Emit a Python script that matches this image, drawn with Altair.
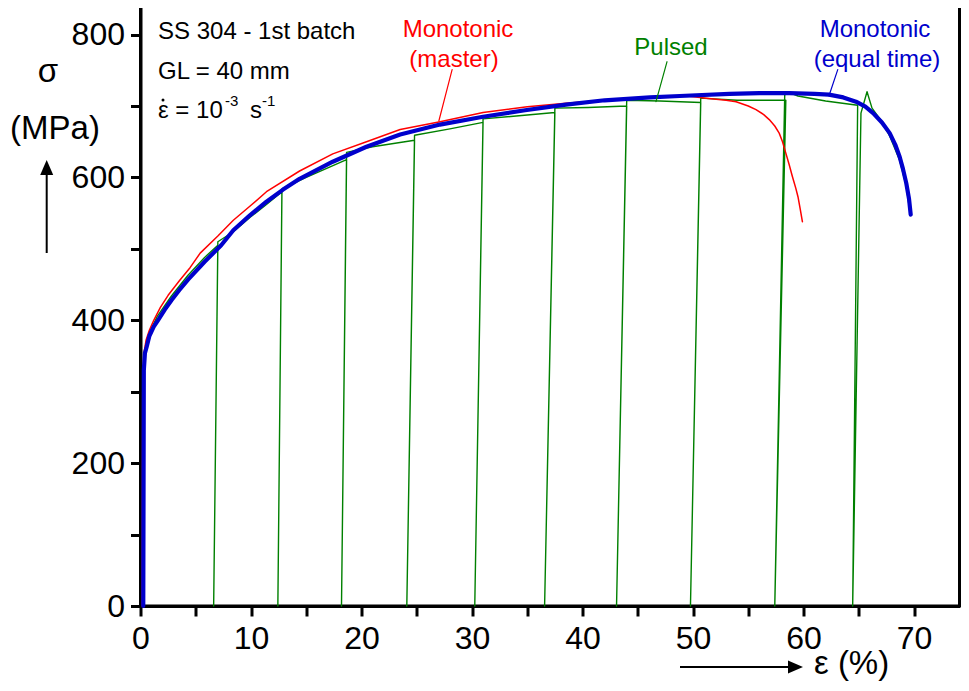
import altair as alt
import pandas as pd

FONT = "Liberation Sans"

# ---- Monotonic (equal time) : blue
eps_blue = [0.25, 0.30, 0.40, 0.56, 0.80, 1.20, 1.58, 2.20, 2.80, 3.50, 4.30, 5.80, 7.30,
            8.40, 9.90, 11.4, 12.9, 14.4, 17.4, 20.45, 23.5, 27.1, 31.0, 34.8, 38.5, 42.0,
            46.1, 48.8, 53.3, 56.0, 58.7, 61.0, 62.3, 63.6, 64.75, 65.6, 66.3, 67.1, 67.8,
            68.3, 68.7, 69.0, 69.3, 69.55, 69.7]
sig_blue = [0, 330, 354, 363, 378, 391, 400, 415, 428, 442, 457, 482, 505,
            526, 547, 566, 583, 598, 622, 643, 660, 674, 685, 694, 702, 708,
            712, 714, 717, 718, 718, 717, 716, 712, 706, 699, 690, 677, 662,
            646, 629, 612, 592, 570, 548]

# ---- Monotonic (master) : red
eps_red = [0.15, 0.20, 0.30, 0.50, 0.80, 1.20, 1.80, 2.50, 3.50, 4.50, 5.40, 7.00, 8.40,
           10.0, 11.4, 14.4, 17.4, 20.45, 23.5, 27.1, 31.0, 35.0, 38.5, 42.0, 44.3, 47.0,
           49.5, 51.2, 53.0, 53.9, 55.0, 55.7, 56.4, 56.9, 57.4, 57.8, 58.1, 58.4, 58.7,
           59.0, 59.3, 59.5, 59.7, 59.9]
sig_red = [0, 300, 352, 372, 386, 400, 418, 435, 455, 474, 494, 518, 540,
           561, 580, 609, 633, 650, 667, 678, 691, 699, 704, 708, 711, 713,
           714, 711, 708, 706, 700, 695, 688, 681, 672, 662, 650, 634, 618,
           601, 585, 573, 556, 538]

# ---- Pulsed : green
eps_green = [0.22, 0.28, 0.45, 0.80, 1.50, 2.80, 4.30, 5.80, 7.00,
             6.62, 7.00, 8.40, 9.90, 11.4, 12.8,
             12.43, 12.8, 15.0, 18.65,
             18.19, 18.65, 21.0, 24.8,
             24.10, 24.8, 28.0, 31.0,
             30.25, 31.0, 34.0, 37.5,
             36.57, 37.5, 40.5, 44.0,
             43.08, 44.0, 47.0, 50.7,
             49.77, 50.7, 54.0, 58.4,
             57.40, 58.3, 58.5, 59.5, 62.0, 64.9,
             64.45, 65.2, 65.75, 66.2, 67.0, 67.8, 68.7, 69.3, 69.6]
sig_green = [0, 340, 358, 382, 405, 434, 463, 488, 505,
             0, 510, 524, 544, 562, 580,
             0, 584, 600, 625,
             0, 635, 643, 652,
             0, 659, 668, 677,
             0, 682, 686, 691,
             0, 697, 698, 700,
             0, 708, 707, 705,
             0, 711, 708, 708,
             0, 715, 720, 714, 707, 701,
             0, 690, 720, 697, 680, 658, 624, 588, 555]

# ---- leader lines for the labels (data units)
lead_red_eps = [28.2, 27.0]
lead_red_sig = [751, 679]
lead_green_eps = [47.65, 46.65]
lead_green_sig = [762, 706]
lead_blue_eps = [63.1, 62.3]
lead_blue_sig = [751, 714]

x_ticks = list(range(0, 71, 5))
y_ticks = list(range(0, 801, 100))

RED = "#ff0000"
GREEN = "#008000"
BLUE = "#0000cc"

# page -> plot coordinate offset
OX, OY = 140.5, 1.0
PLOT_W = 819.0          # 11.05 px per % strain
X_MAX = PLOT_W / 11.05


def curve(eps, sig):
    return pd.DataFrame({"eps": eps, "sig": sig, "i": list(range(len(eps)))})


X = alt.X("eps:Q",
          scale=alt.Scale(domain=[0, X_MAX], nice=False, zero=False),
          axis=alt.Axis(values=x_ticks, title=None,
                        labelExpr="datum.value % 10 == 0 ? datum.label : ''",
                        labelFlush=False, labelOverlap=False, labelBound=False,
                        labelPadding=7))
Y = alt.Y("sig:Q",
          scale=alt.Scale(domain=[0, 847], nice=False, zero=False),
          axis=alt.Axis(values=y_ticks, title=None,
                        labelExpr="datum.value % 200 == 0 ? datum.label : ''",
                        labelFlush=False, labelOverlap=False, labelBound=False,
                        labelPadding=6))


def line(eps, sig, color, width):
    return alt.Chart(curve(eps, sig)).mark_line(
        color=color, strokeWidth=width, strokeJoin="round", strokeCap="round"
    ).encode(x=X, y=Y, order=alt.Order("i:Q"))


one = pd.DataFrame({"k": [0]})


def label(txt, x, y, size, color="black", align="left", baseline="alphabetic"):
    return alt.Chart(one).mark_text(
        text=txt, font=FONT, fontSize=size, color=color, align=align, baseline=baseline
    ).encode(x=alt.value(x - OX), y=alt.value(y - OY))


def rule(x1, y1, x2, y2, width=2):
    return alt.Chart(one).mark_rule(color="black", strokeWidth=width).encode(
        x=alt.value(x1 - OX), y=alt.value(y1 - OY), x2=alt.value(x2 - OX), y2=alt.value(y2 - OY))


def head(x, y, path):
    return alt.Chart(one).mark_point(
        shape=path, size=225, filled=True, color="black", opacity=1, strokeWidth=0
    ).encode(x=alt.value(x - OX), y=alt.value(y - OY))


layers = [
    line(eps_green, sig_green, GREEN, 1.4),
    line(eps_red, sig_red, RED, 1.5),
    line(eps_blue, sig_blue, BLUE, 4.2),
    line(lead_red_eps, lead_red_sig, RED, 1.2),
    line(lead_green_eps, lead_green_sig, GREEN, 1.2),
    line(lead_blue_eps, lead_blue_sig, BLUE, 1.2),
    # info block
    label("SS 304 - 1st batch", 158, 39, 24),
    label("GL = 40 mm", 158, 79, 24),
    label("\u03b5 = 10", 158, 118, 24),
    label("-3", 225, 106, 15),
    label("s", 250, 118, 24),
    label("-1", 262, 106, 15),
    alt.Chart(one).mark_circle(size=9, color="black", opacity=1).encode(
        x=alt.value(163 - OX), y=alt.value(100 - OY)),
    # curve labels
    label("Monotonic", 458, 37, 24, RED, "center"),
    label("(master)", 454, 67, 24, RED, "center"),
    label("Pulsed", 671, 55, 24, GREEN, "center"),
    label("Monotonic", 875, 37, 24, BLUE, "center"),
    label("(equal time)", 877, 67, 24, BLUE, "center"),
    # axis titles
    label("\u03c3", 48, 82, 33, "black", "center"),
    label("(MPa)", 55, 139, 33, "black", "center"),
    label("\u03b5 (%)", 814, 674, 33),
    rule(46.7, 253, 46.7, 170),
    head(46.7, 167.5, "M0,-1L0.87,1L-0.87,1Z"),
    rule(680, 667, 793, 667),
    head(795.5, 667, "M1,0L-1,-0.87L-1,0.87Z"),
]

chart = alt.layer(*layers).properties(
    width=PLOT_W,
    height=605,
    padding={"left": 132.5, "top": -7, "right": 1.5, "bottom": 76},
    autosize=alt.AutoSizeParams(type="none"),
).configure_view(
    stroke="black", strokeWidth=3
).configure_axis(
    domainColor="black", domainWidth=3, tickColor="black", tickWidth=3, tickSize=10,
    labelFont=FONT, labelFontSize=32, labelColor="black", grid=False
)

chart.save("out.html", embed_options={"renderer": "svg", "actions": False})
